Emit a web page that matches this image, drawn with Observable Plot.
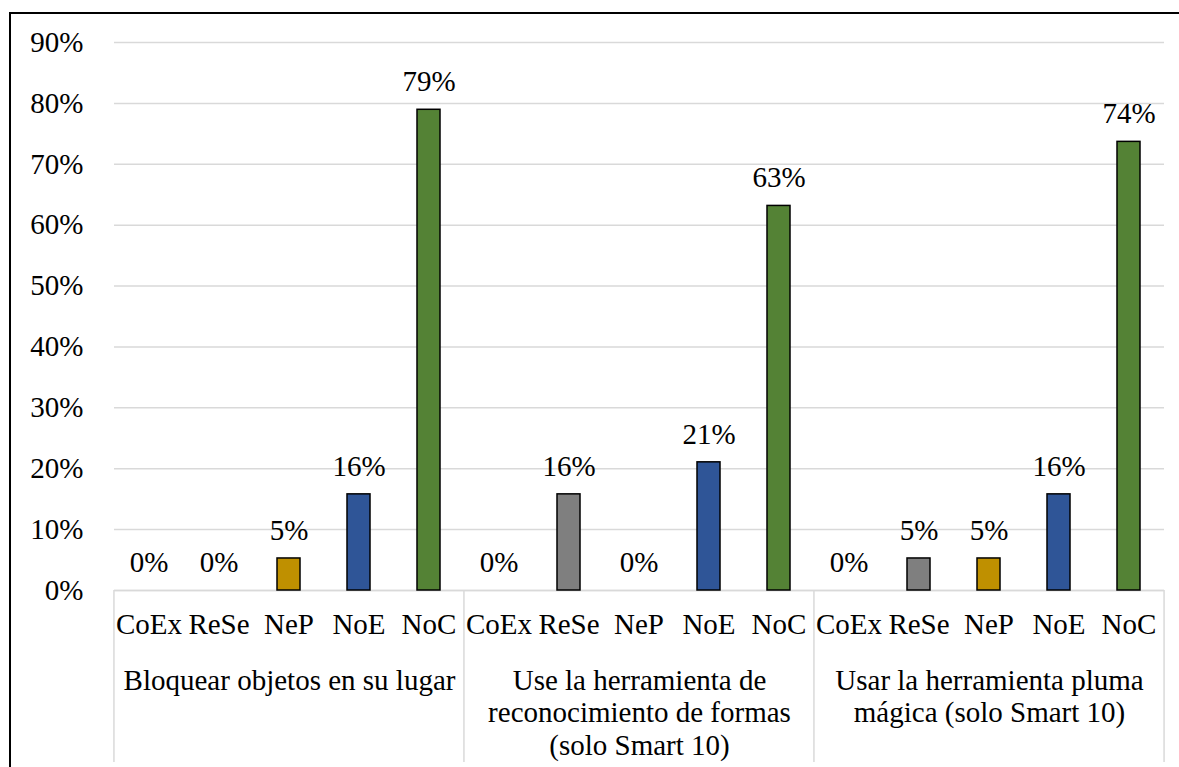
<!DOCTYPE html>
<html>
<head>
<meta charset="utf-8">
<script src="https://cdn.jsdelivr.net/npm/d3@7"></script>
<script src="https://cdn.jsdelivr.net/npm/@observablehq/plot@0.6"></script>
<style>
  html, body { margin: 0; padding: 0; background: #fff; overflow: hidden; }
  #wrap { position: relative; width: 1179px; height: 767px; overflow: hidden; }
  #border { position: absolute; left: 9px; top: 12px; width: 1300px; height: 900px;
            border-left: 2px solid #000; border-top: 2px solid #000; }
  #chart { position: absolute; left: 0; top: 0; }
  #chart svg, #chart svg g, #chart svg text { font-family: "Liberation Serif", "Times New Roman", serif !important; font-size: 29px; font-variant: normal !important; }
</style>
</head>
<body>
<div id="wrap"><div id="border"></div><div id="chart"></div></div>
<script>
const groups = [
  "Bloquear objetos en su lugar",
  "Use la herramienta de\nreconocimiento de formas\n(solo Smart 10)",
  "Usar la herramienta pluma\nmágica (solo Smart 10)"
];
const categories = ["CoEx", "ReSe", "NeP", "NoE", "NoC"];
const colors = ["#4472c4", "#7f7f7f", "#bf9000", "#2f5597", "#548235"];
const valuesG1 = [0, 0, 0.0526, 0.1579, 0.7895];
const valuesG2 = [0, 0.1579, 0, 0.2105, 0.6316];
const valuesG3 = [0, 0.0526, 0.0526, 0.1579, 0.7368];
const yTicks = [0, 0.1, 0.2, 0.3, 0.4, 0.5, 0.6, 0.7, 0.8, 0.9];

const series = [valuesG1, valuesG2, valuesG3];
const data = [];
groups.forEach((g, gi) => categories.forEach((c, ci) => data.push({group: g, cat: c, value: series[gi][ci]})));

const W = 1179, H = 767;
const mL = 113, mR = 14, mT = 42, mB = 177;
const facetW = (W - mL - mR) / groups.length;
const step = facetW / categories.length;
const pxPerUnit = (H - mB - mT) / 0.9;
const sepBottom = -(172 / pxPerUnit);
const fmt = d3.format(".0%");
const grid = "#d9d9d9";

const chart = Plot.plot({
  width: W, height: H,
  marginLeft: mL, marginRight: mR, marginTop: mT, marginBottom: mB,
  style: {fontFamily: "Liberation Serif, serif", fontSize: "29px", color: "#000", background: "transparent"},
  fx: {domain: groups, padding: 0, axis: null, label: null},
  x: {domain: categories, paddingInner: 0.67, paddingOuter: 0.335, axis: null, label: null},
  y: {domain: [0, 0.9], axis: null, label: null},
  color: {domain: categories, range: colors},
  marks: [
    Plot.gridY(yTicks, {stroke: grid, strokeOpacity: 1, strokeWidth: 1.5}),
    Plot.ruleY([0], {stroke: grid, strokeWidth: 1.5}),
    Plot.ruleX(groups, {fx: d => d, x: () => categories[0], y1: 0, y2: sepBottom, dx: -step / 2, stroke: grid, strokeWidth: 1.5}),
    Plot.ruleX([groups[groups.length - 1]], {fx: d => d, x: () => categories[categories.length - 1], y1: 0, y2: sepBottom, dx: step / 2, stroke: grid, strokeWidth: 1.5}),
    Plot.barY(data.filter(d => d.value > 0), {fx: "group", x: "cat", y: "value", fill: "cat", stroke: "#000", strokeWidth: 1.5}),
    Plot.text(data, {fx: "group", x: "cat", y: "value", text: d => fmt(d.value), dy: -28, fill: "#000"}),
    Plot.axisY({ticks: yTicks, tickFormat: fmt, tickSize: 0, tickPadding: 31, label: null}),
    Plot.axisX({anchor: "bottom", tickSize: 0, tickPadding: 23, label: null}),
    Plot.axisFx({anchor: "bottom", tickSize: 0, tickPadding: 76, lineHeight: 1.12, label: null})
  ]
});
document.getElementById("chart").appendChild(chart);
</script>
</body>
</html>
